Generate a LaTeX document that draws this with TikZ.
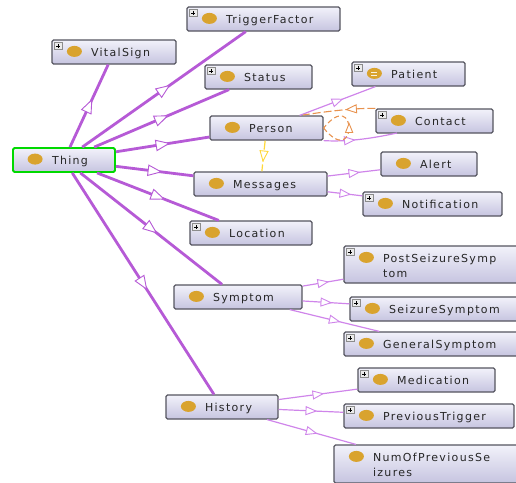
\documentclass[tikz,border=0pt]{standalone}
\usepackage{fontspec}
\setmainfont[LetterSpace=12]{DejaVu Sans}
\usetikzlibrary{decorations.markings}
\definecolor{isathick}{HTML}{B65AD6}
\definecolor{isathin}{HTML}{CF85EA}
\definecolor{linkorange}{HTML}{E8924E}
\definecolor{linkyellow}{HTML}{FFD83A}
\definecolor{dotgold}{HTML}{D9A32E}
\definecolor{boxedge}{HTML}{55555F}
\definecolor{boxtop}{HTML}{F2F2FA}
\definecolor{boxbot}{HTML}{C6C4E0}
\tikzset{
    cls/.style={draw=boxedge, line width=1.2pt, rounded corners=1.5pt,
        top color=boxtop, bottom color=boxbot, minimum height=24pt,
        inner xsep=2pt, inner ysep=2pt, text=black!85,
        text height=8pt, text depth=0pt,
        font=\fontsize{11}{15}\selectfont,
        execute at begin node={\leftskip=37pt\rightskip=0pt plus 1fil}},
    twolines/.style={text height=9pt, text depth=14pt},
    opentip/.style n args={3}{postaction={decorate},
        decoration={markings, mark=at position #1 with {
            \draw[solid, draw=#2, fill=white, line width=.9pt]
                (-#3,-.8*#3) -- (#3,0) -- (-#3,.8*#3) -- cycle;}}},
    thick isa/.style={draw=isathick, line width=2.8pt, opentip={.5}{isathick}{6.5}},
    thin isa/.style={draw=isathin, line width=1.2pt, opentip={#1}{isathin}{5}},
    thin isa/.default={.5},
    orange link/.style={draw=linkorange, line width=1.1pt, dash pattern=on 8pt off 3pt},
    plusbox/.style={draw=black!45, fill=black!8, line width=.5pt},
    plussign/.style={draw=black, line width=.7pt},
}

\begin{document}
\begin{tikzpicture}[x=1pt,y=-1pt]
    \useasboundingbox (0,0) rectangle (516,482);

    \node[cls, text width=149pt] (triggerfactor) at (263.5,19) {TriggerFactor};
    \node[cls, text width=120pt] (vitalsign) at (114,52) {VitalSign};
    \node[cls, text width=103pt] (status) at (258.5,77) {Status};
    \node[cls, text width=109pt] (person) at (266.5,128) {Person};
    \node[cls, text width=109pt] (patient) at (408.5,74) {Patient};
    \node[cls, text width=113pt] (contact) at (434.5,121) {Contact};
    \node[cls, text width=98pt, draw=green!85!black, line width=1.8pt] (thing) at (64,160) {Thing};
    \node[cls, text width=129pt] (messages) at (260.5,184) {Messages};
    \node[cls, text width=92pt] (alert) at (429,164) {Alert};
    \node[cls, text width=135pt] (notification) at (432.5,204) {Notification};
    \node[cls, text width=118pt] (location) at (251,233) {Location};
    \node[cls, text width=124pt] (symptom) at (238,297) {Symptom};
    \node[cls, twolines, text width=170pt, minimum height=37pt] (postseizure) at (431,264.5) {PostSeizureSymp\\tom};
    \node[cls, text width=164pt] (seizure) at (434,309) {SeizureSymptom};
    \node[cls, text width=170pt] (general) at (431,344) {GeneralSymptom};
    \node[cls, text width=133pt] (medication) at (426.5,380) {Medication};
    \node[cls, text width=166pt] (prevtrigger) at (429,416) {PreviousTrigger};
    \node[cls, twolines, text width=180pt, minimum height=38pt] (numprevious) at (426,464) {NumOfPreviousSe\\izures};
    \node[cls, text width=108pt] (history) at (222,407) {History};

    % class dots
    \foreach \n in {triggerfactor,vitalsign,status,person,patient,contact,thing,messages,alert,
        notification,location,symptom,postseizure,seizure,general,medication,prevtrigger,numprevious,history}
        \fill[dotgold] ([shift={(23,12)}]\n.north west) ellipse (7.5pt and 5.5pt);
    \draw[white!85!dotgold, line width=.8pt] ([shift={(20,10.5)}]patient.north west) -- +(6,0)
        ([shift={(20,13.5)}]patient.north west) -- +(6,0);

    % expand boxes
    \foreach \n in {triggerfactor,vitalsign,status,patient,contact,notification,location,
        postseizure,seizure,general,medication,prevtrigger} {
        \draw[plusbox] ([shift={(3,3)}]\n.north west) rectangle +(8,7);
        \draw[plussign] ([shift={(5,6.5)}]\n.north west) -- +(4,0)
            ([shift={(7,4.5)}]\n.north west) -- +(0,4);
    }

    \draw[thick isa] (thing) -- (vitalsign);
    \draw[thick isa] (thing) -- (triggerfactor);
    \draw[thick isa] (thing) -- (status);
    \draw[thick isa] (thing) -- (person);
    \draw[thick isa] (thing) -- (messages);
    \draw[thick isa] (thing) -- (location);
    \draw[thick isa] (thing) -- (symptom);
    \draw[thick isa] (thing) -- (history);

    \draw[thin isa] (person) -- (patient);
    \coordinate (contactfoot) at (397,133);
    \draw[thin isa={.35}] (person.south east) .. controls (345,142) and (370,139) .. (contactfoot);
    \draw[thin isa] (messages) -- (alert);
    \draw[thin isa] (messages) -- (notification);
    \draw[thin isa] (symptom) -- (postseizure);
    \draw[thin isa] (symptom) -- (seizure);
    \draw[thin isa] (symptom) -- (general);
    \draw[thin isa] (history) -- (medication);
    \draw[thin isa] (history) -- (prevtrigger);
    \draw[thin isa] (history) -- (numprevious);

    % object properties
    \coordinate (personhook) at (303,115);
    \draw[orange link, opentip={.33}{linkorange}{5}] (contact.north west)
        .. controls (355,108) and (330,111) .. (personhook);
    \draw[draw=linkorange, line width=1.1pt, dash pattern=on 5pt off 3pt,
        opentip={.5}{linkorange}{4.5}] (person.east)
        .. controls +(34,42) and +(34,-42) .. (person.east);
    \draw[draw=linkyellow, line width=1.2pt, dash pattern=on 9pt off 3pt,
        opentip={.5}{linkyellow}{5}] (person) -- (messages);
\end{tikzpicture}
\end{document}
